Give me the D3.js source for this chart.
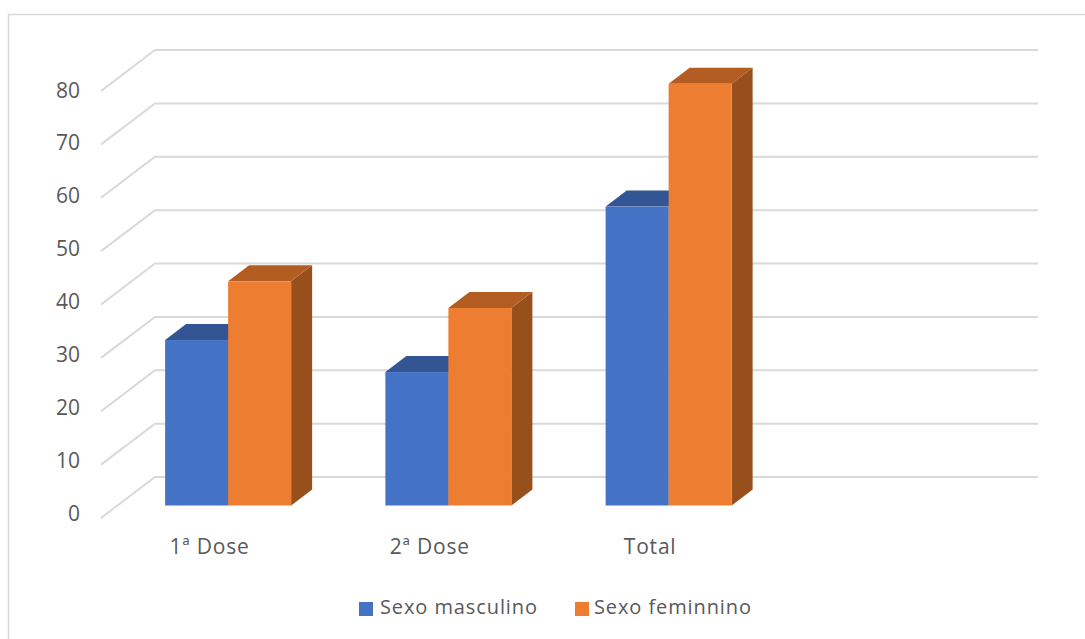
<!DOCTYPE html>
<html>
<head>
<meta charset="utf-8">
<script src="https://cdn.jsdelivr.net/npm/d3@7/dist/d3.min.js"></script>
<style>
  html, body { margin: 0; padding: 0; background: #fff; }
  svg { display: block; }
  text { font-family: "Open Sans", "Noto Sans", sans-serif; fill: #595959; }
</style>
</head>
<body>
<svg id="chart" width="1085" height="639"></svg>
<script>
// Doses administered by sex
const categories = ["1ª Dose", "2ª Dose", "Total", ""];
const seriesNames = ["Sexo masculino", "Sexo feminnino"];
const masculino = [31, 25, 56];
const feminino = [42, 37, 79];
const yTicks = [0, 10, 20, 30, 40, 50, 60, 70, 80];

const seriesColors = [
  { front: "#4472C4", top: "#335593", side: "#2F5597" },
  { front: "#ED7D31", top: "#B35D22", side: "#974F1C" }
];
const gridColor = "#D9D9D9";

const svg = d3.select("#chart");

// Chart area frame: open on the right and bottom edges
svg.append("path")
  .attr("d", "M8.5,639V14.5H1085")
  .attr("fill", "none")
  .attr("stroke", "#D9D9D9")
  .attr("stroke-width", 1.5);

// Oblique projection: values rise along y, depth runs up and to the right
const floorFront = { x: 101, y: 518 };
const floorBack = { x: 155, y: 477 };
const wallRight = 1038;
const barBaseY = 505.5;
const barDepth = { x: 21, y: -16 };
const unitRange = 427;

const height = d3.scaleLinear().domain([0, 80]).range([0, unitRange]);
const x = d3.scaleBand().domain(categories).range([118, 999]);
const barWidth = 63;

// Gridlines: a diagonal on the side wall, then a run along the back wall
svg.append("g").selectAll("path").data(yTicks).join("path")
  .attr("d", d => {
    const h = height(d);
    return `M${floorFront.x},${floorFront.y - h}L${floorBack.x},${floorBack.y - h}H${wallRight}`;
  })
  .attr("fill", "none")
  .attr("stroke", gridColor)
  .attr("stroke-width", 2);

// Value labels along the front edge of the side wall
const labelY = d3.scaleLinear().domain([0, 80]).range([520.5, 97.5]);
svg.append("g").selectAll("text").data(yTicks).join("text")
  .attr("x", 80)
  .attr("y", d => labelY(d))
  .attr("text-anchor", "end")
  .attr("font-size", 21)
  .text(d => d);

// One cuboid per value; the blue series is drawn first so orange overlaps it
const bars = svg.append("g");
[masculino, feminino].forEach((values, s) => {
  values.forEach((v, i) => {
    const cx = x(categories[i]) + x.bandwidth() / 2;
    const x0 = cx - barWidth + s * barWidth;
    const x1 = x0 + barWidth;
    const yTop = barBaseY - height(v);
    const dx = barDepth.x, dy = barDepth.y;
    const c = seriesColors[s];
    bars.append("path")
      .attr("d", `M${x1},${yTop}l${dx},${dy}V${barBaseY + dy}L${x1},${barBaseY}Z`)
      .attr("fill", c.side);
    bars.append("path")
      .attr("d", `M${x0},${yTop}l${dx},${dy}H${x1 + dx}L${x1},${yTop}Z`)
      .attr("fill", c.top);
    bars.append("rect")
      .attr("x", x0).attr("y", yTop)
      .attr("width", barWidth).attr("height", height(v))
      .attr("fill", c.front);
  });
});

// Category labels under the side-wall floor edge
svg.append("g").selectAll("text").data(categories.filter(c => c)).join("text")
  .attr("x", d => x(d) + x.bandwidth() / 2 - 18.5)
  .attr("y", 554)
  .attr("text-anchor", "middle")
  .attr("font-size", 21)
  .attr("letter-spacing", 0.8)
  .text(d => d);

// Legend
const legendX = d3.scaleOrdinal().domain(seriesNames).range([359, 575]);
const legend = svg.append("g").selectAll("g").data(seriesNames).join("g")
  .attr("transform", d => `translate(${legendX(d)},602)`);
legend.append("rect")
  .attr("width", 14).attr("height", 14)
  .attr("fill", (d, i) => seriesColors[i].front);
legend.append("text")
  .attr("x", (d, i) => i === 0 ? 21 : 19)
  .attr("y", 12)
  .attr("font-size", 20)
  .attr("letter-spacing", 0.9)
  .text(d => d);
</script>
</body>
</html>
